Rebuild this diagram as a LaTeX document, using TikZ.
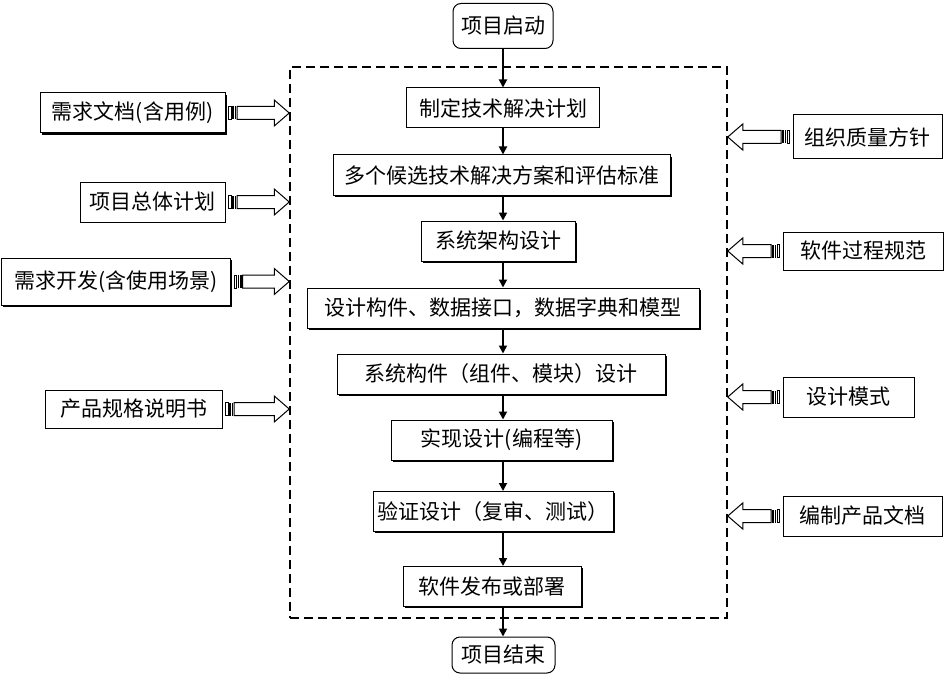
\documentclass[tikz,border=0pt]{standalone}
\usepackage{fontspec}
\newfontfamily\cjk{Noto Sans CJK SC}
\usetikzlibrary{arrows.meta, positioning, calc, shadows}
\tikzset{
  arrow/.style={draw=black, line width=1.8pt, -{Triangle[length=8pt, width=8pt]}},
  block/.style={draw=black, fill=white, rectangle, line width=1pt, font=\cjk\fontsize{21}{24}\selectfont, minimum height=40pt, inner sep=0pt},
  sblock/.style={block, drop shadow={shadow xshift=1.6pt, shadow yshift=-1.6pt, fill=black, opacity=1}},
  term/.style={block, rounded corners=8pt},
  frame/.style={draw=black, dash pattern=on 9pt off 5pt, line width=1.5pt, minimum width=437pt, minimum height=551pt, inner sep=0pt},
  hollow/.style={draw=black, line width=1pt, fill=white, line join=miter}
}
\newcommand{\fatarrow}[2]{%
  \coordinate (fa0) at ($(#1)!3pt!(#2)$);
  \coordinate (fa1) at ($(#1)!5.5pt!(#2)$);
  \coordinate (fa2) at ($(#1)!6.5pt!(#2)$);
  \coordinate (fa3) at ($(#1)!8pt!(#2)$);
  \coordinate (fa4) at ($(#1)!9pt!(#2)$);
  \coordinate (fa5) at ($(#1)!10.5pt!(#2)$);
  \coordinate (fa6) at ($(#1)!11.5pt!(#2)$);
  \coordinate (fa7) at ($(#2)!15pt!(#1)$);
  \draw [line width=0.8pt] ($(fa0)+(0,-6.5)$) rectangle ($(fa1)+(0,6.5)$);
  \fill ($(fa2)+(0,-6.5)$) rectangle ($(fa3)+(0,6.5)$);
  \fill ($(fa4)+(0,-6.5)$) rectangle ($(fa5)+(0,6.5)$);
  \draw [hollow] ($(fa6)+(0,6.5)$) -- ($(fa7)+(0,6.5)$) -- ($(fa7)+(0,13)$) -- (#2)
    -- ($(fa7)+(0,-13)$) -- ($(fa7)+(0,-6.5)$) -- ($(fa6)+(0,-6.5)$) -- cycle;
}

\begin{document}
\begin{tikzpicture}[x=1pt, y=-1pt]
  \useasboundingbox (0,0) rectangle (945,674);
  \node [frame] (frame) at (508.5,342.5) {};

  \node [term, minimum width=100pt, minimum height=45pt] (start) at (503,26) {项目启动};
  \node [block, minimum width=193pt] (b1) at (503,108) {制定技术解决计划};
  \node [sblock, minimum width=337pt] (b2) at (501.5,175) {多个候选技术解决方案和评估标准};
  \node [sblock, minimum width=154pt] (b3) at (498,241) {系统架构设计};
  \node [sblock, minimum width=392pt] (b4) at (503,308) {设计构件、数据接口，数据字典和模型};
  \node [sblock, minimum width=328pt] (b5) at (501,374) {系统构件（组件、模块）设计};
  \node [sblock, minimum width=221pt] (b6) at (501.5,440) {实现设计(编程等)};
  \node [sblock, minimum width=240pt] (b7) at (493,511.5) {验证设计（复审、测试）};
  \node [sblock, minimum width=178pt] (b8) at (492,586.5) {软件发布或部署};
  \node [term, minimum width=103pt, minimum height=36pt] (end) at (503.5,655) {项目结束};

  \node [sblock, minimum width=185pt] (in1) at (132.5,113) {需求文档(含用例)};
  \node [block, minimum width=145pt] (in2) at (152.5,202) {项目总体计划};
  \node [sblock, minimum width=229pt, minimum height=47pt] (in3) at (116,281.5) {需求开发(含使用场景)};
  \node [block, minimum width=177pt, minimum height=38pt] (in4) at (133.5,409) {产品规格说明书};

  \node [block, minimum width=149pt, minimum height=44pt] (g1) at (867.5,137) {组织质量方针};
  \node [block, minimum width=160pt, minimum height=38pt] (g2) at (863,251) {软件过程规范};
  \node [block, minimum width=131pt] (g3) at (848.5,397) {设计模式};
  \node [block, minimum width=159pt] (g4) at (862.5,516) {编制产品文档};

  \draw [arrow] (start) -- (b1);
  \foreach \a/\b in {b1/b2, b2/b3, b3/b4, b4/b5, b5/b6, b6/b7, b7/b8}
    \draw [arrow] (\a.south -| start) -- (\b.north -| start);
  \draw [arrow] (b8.south -| start) -- (end.north -| start);

  \foreach \n in {in1, in2, in3, in4}
    \fatarrow{\n.east}{\n.east -| frame.west};
  \foreach \n in {g1, g2, g3, g4}
    \fatarrow{\n.west}{\n.west -| frame.east};
\end{tikzpicture}
\end{document}
